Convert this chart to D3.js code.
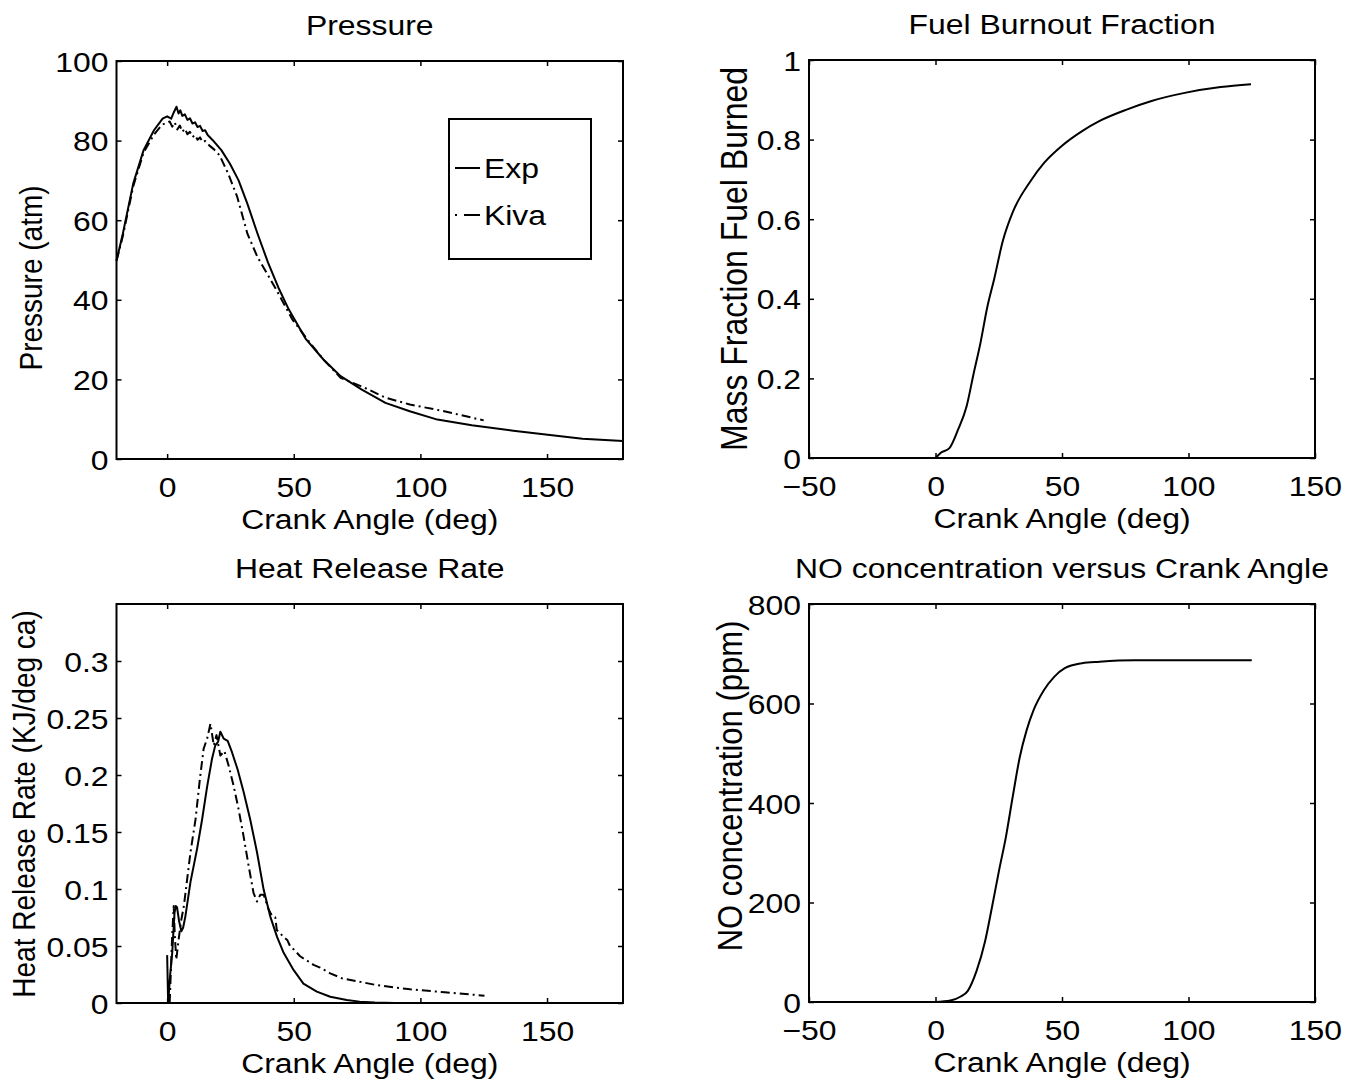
<!DOCTYPE html>
<html>
<head>
<meta charset="utf-8">
<script src="https://cdn.jsdelivr.net/npm/d3@7"></script>
<style>
  html, body { margin: 0; padding: 0; background: #fff; }
  svg { display: block; }
</style>
</head>
<body>
<svg id="chart" width="1359" height="1087"></svg>
<script>
// ---------------- DATA ----------------
// Pressure panel
const pExpAngle = [-20,-17.5,-13.4,-9.3,-5.2,-1.8,0,1.6,2.7,3.7,4.5,5.2,6,7,8,9,10,11,12,13,14,15,16,18,21.4,24.8,28.2,31.7,35.7,39.8,43.9,48,54.8,61.7,68.5,76.7,86.2,95.8,106.7,120.3,136.7,150.3,164,180];
const pExp = [49.8,56.6,69.2,77.6,82.6,85.5,86.1,85.5,87.2,88.5,86.8,87.6,86.2,86.6,85.2,85.6,84.3,84.6,83.4,83.7,82.4,82.6,81.4,80.1,77.6,74.2,70.0,64.1,56.6,49.4,43.1,37.6,30.1,25.0,20.8,17.5,14.1,12.0,9.9,8.5,7.1,6.1,5.1,4.5];
const pKivaAngle = [-20,-17.5,-13.4,-9.3,-5.2,-2,0,1,2,3,4,5,6,7,8,9,10,11,12,13,14,15,16.6,18.5,20.7,24.1,27.6,31.7,35.7,42.6,49.4,54.8,61.7,68.5,78,86.2,95.8,109.4,125];
const pKiva = [49.8,56.0,68.5,77.0,81.5,84.0,84.5,84.8,83.5,84.6,82.8,83.8,82.2,83.0,81.6,82.2,80.9,81.4,80.2,80.8,79.6,79.9,78.8,77.8,76.3,71.7,66.0,56.6,50.7,43.1,35.1,30.5,25.0,20.4,17.9,15.4,13.7,12.0,9.7];
const pXTicks = [0,50,100,150];
const pYTicks = [0,20,40,60,80,100];

// Fuel burnout panel
const fuelAngle = [0,2,5.5,8.9,12.3,15,17.8,20.5,23.2,26.6,30.7,37.6,43,49.9,58.1,64.9,75.8,85.4,99,112.7,124.7];
const fuelFrac = [0,0.0125,0.025,0.071,0.13,0.21,0.29,0.38,0.45,0.545,0.62,0.696,0.742,0.784,0.822,0.847,0.876,0.897,0.918,0.932,0.939];
const fXTicks = [-50,0,50,100,150];
const fYTicks = [0,0.2,0.4,0.6,0.8,1];

// Heat release rate panel
const hrrExpAngle = [0,0.4,1.2,2.0,2.9,3.4,3.9,4.7,5.6,6.3,7.2,9.2,11.8,13.8,15.8,17.7,19.0,20.1,21.0,22.3,23.9,25.6,27.8,30.2,32.8,35.5,38.1,40.7,43.4,46.0,49.9,53.8,59.1,64.4,70.9,76,82,90,125];
const hrrExp = [0.042,0.0,0.025,0.044,0.079,0.085,0.084,0.072,0.063,0.066,0.076,0.106,0.135,0.161,0.190,0.214,0.226,0.229,0.238,0.232,0.230,0.220,0.205,0.185,0.161,0.132,0.0995,0.076,0.058,0.044,0.029,0.017,0.010,0.0055,0.0026,0.0012,0.0004,0,0];
const hrrKivaAngle = [1.0,2.0,2.6,3.0,3.6,4.5,5.5,6.6,9.2,11.2,12.9,14.4,15.8,17.1,18.4,19.5,21,22.6,24.3,26.3,28.2,30.2,32.2,34.1,35.5,36.8,38.1,40.1,41.5,42.7,43.3,46,47.5,48.6,50,52.5,57.8,60.4,64.4,69,82.5,96,109.6,125.3];
const hrrKiva = [0.0,0.06,0.085,0.06,0.038,0.055,0.072,0.085,0.132,0.161,0.196,0.223,0.232,0.245,0.226,0.235,0.217,0.221,0.208,0.19,0.17,0.146,0.12,0.0966,0.089,0.095,0.095,0.082,0.076,0.075,0.064,0.058,0.055,0.0496,0.047,0.041,0.0335,0.031,0.026,0.0217,0.0158,0.012,0.0094,0.0064];
const hXTicks = [0,50,100,150];
const hYTicks = [0,0.05,0.1,0.15,0.2,0.25,0.3];

// NO concentration panel
const noAngle = [0,5.9,10,12.7,16.2,19.6,22.3,25.1,27.8,30.5,33.3,36,38.8,42.9,47,51.1,57.9,64.8,78.5,100,125];
const noConc = [0,3,11,22,62,122,190,264,331,412,492,546,587,627,654,671,681,684,687,687,687];
const nXTicks = [-50,0,50,100,150];
const nYTicks = [0,200,400,600,800];

const seriesNames = ["Exp", "Kiva"];

// ---------------- DRAWING ----------------
const svg = d3.select("#chart");
const FONT = "'Liberation Sans', Arial, Helvetica, sans-serif";
const FS = 28;
const SX = 1.14;
const KIVA_DASH = "9,4,2,4";
const fmt = d3.format("~g");

svg.append("rect").attr("width", 1359).attr("height", 1087).attr("fill", "#fff");

function label(x, y, str, opts = {}) {
  return svg.append("text")
    .attr("transform", `translate(${x},${y}) scale(${SX},1)` + (opts.rotate ? " rotate(-90)" : ""))
    .attr("text-anchor", opts.anchor || "middle")
    .attr("font-family", FONT)
    .attr("font-size", opts.size || FS)
    .attr("fill", "#000")
    .text(str);
}

function styleAxis(g) {
  g.attr("font-size", FS).attr("font-family", FONT);
  g.select(".domain").remove();
  g.selectAll(".tick line").attr("stroke", "#000").attr("stroke-width", 1.5);
  g.selectAll(".tick text").attr("fill", "#000").attr("transform", `scale(${SX},1)`);
}

function panel(cfg) {
  const x = d3.scaleLinear().domain(cfg.xd).range([cfg.l, cfg.r]);
  const y = d3.scaleLinear().domain(cfg.yd).range([cfg.b, cfg.t]);

  const gb = svg.append("g").attr("transform", `translate(0,${cfg.b})`)
    .call(d3.axisBottom(x).tickValues(cfg.xt).tickSizeInner(-5).tickSizeOuter(0).tickPadding(18).tickFormat(fmt));
  styleAxis(gb);
  const gt = svg.append("g").attr("transform", `translate(0,${cfg.t})`)
    .call(d3.axisTop(x).tickValues(cfg.xt).tickSizeInner(-5).tickSizeOuter(0).tickFormat(""));
  styleAxis(gt);
  const gl = svg.append("g").attr("transform", `translate(${cfg.l},0)`)
    .call(d3.axisLeft(y).tickValues(cfg.yt).tickSizeInner(-5).tickSizeOuter(0).tickPadding(7).tickFormat(fmt));
  styleAxis(gl);
  gl.selectAll(".tick text").attr("dy", "0.36em");
  const gr = svg.append("g").attr("transform", `translate(${cfg.r},0)`)
    .call(d3.axisRight(y).tickValues(cfg.yt).tickSizeInner(-5).tickSizeOuter(0).tickFormat(""));
  styleAxis(gr);

  svg.append("rect")
    .attr("x", cfg.l).attr("y", cfg.t)
    .attr("width", cfg.r - cfg.l).attr("height", cfg.b - cfg.t)
    .attr("fill", "none").attr("stroke", "#000").attr("stroke-width", 2);

  cfg.series.forEach(s => {
    const pts = s.xs.map((v, i) => [v, s.ys[i]]);
    const line = d3.line().x(d => x(d[0])).y(d => y(d[1])).curve(s.curve || d3.curveLinear);
    svg.append("path").datum(pts)
      .attr("d", line)
      .attr("fill", "none")
      .attr("stroke", "#000")
      .attr("stroke-width", 2)
      .attr("stroke-linejoin", "round")
      .attr("stroke-dasharray", s.dash || null);
  });

  const cx = (cfg.l + cfg.r) / 2;
  label(cx, cfg.t - 26, cfg.title);
  label(cx, cfg.b + 70, cfg.xlabel);
  label(cfg.ylabelX, cfg.ylabelY, cfg.ylabel, { rotate: true, size: cfg.ylabelSize });
  return { x, y };
}

panel({
  l: 116.5, r: 623, t: 61, b: 459,
  xd: [-20, 180], yd: [0, 100], xt: pXTicks, yt: pYTicks,
  title: "Pressure", xlabel: "Crank Angle (deg)", ylabel: "Pressure (atm)",
  ylabelX: 42, ylabelY: 278, ylabelSize: 28,
  series: [
    { xs: pExpAngle, ys: pExp },
    { xs: pKivaAngle, ys: pKiva, dash: KIVA_DASH }
  ]
});

panel({
  l: 809, r: 1315, t: 60, b: 458,
  xd: [-50, 150], yd: [0, 1], xt: fXTicks, yt: fYTicks,
  title: "Fuel Burnout Fraction", xlabel: "Crank Angle (deg)", ylabel: "Mass Fraction Fuel Burned",
  ylabelX: 747, ylabelY: 259, ylabelSize: 32,
  series: [ { xs: fuelAngle, ys: fuelFrac, curve: d3.curveMonotoneX } ]
});

panel({
  l: 116.5, r: 623, t: 604, b: 1003,
  xd: [-20, 180], yd: [0, 0.35], xt: hXTicks, yt: hYTicks,
  title: "Heat Release Rate", xlabel: "Crank Angle (deg)", ylabel: "Heat Release Rate (KJ/deg ca)",
  ylabelX: 35, ylabelY: 804, ylabelSize: 28,
  series: [
    { xs: hrrExpAngle, ys: hrrExp },
    { xs: hrrKivaAngle, ys: hrrKiva, dash: KIVA_DASH }
  ]
});

panel({
  l: 809, r: 1315, t: 604, b: 1002,
  xd: [-50, 150], yd: [0, 800], xt: nXTicks, yt: nYTicks,
  title: "NO concentration versus Crank Angle", xlabel: "Crank Angle (deg)", ylabel: "NO concentration (ppm)",
  ylabelX: 742, ylabelY: 786, ylabelSize: 31,
  series: [ { xs: noAngle, ys: noConc, curve: d3.curveMonotoneX } ]
});

// Legend (pressure panel)
const lg = { x: 449, y: 119, w: 142, h: 140 };
svg.append("rect").attr("x", lg.x).attr("y", lg.y).attr("width", lg.w).attr("height", lg.h)
  .attr("fill", "#fff").attr("stroke", "#000").attr("stroke-width", 2);
const legendRows = [
  { name: seriesNames[0], dash: null, cy: 168 },
  { name: seriesNames[1], dash: "2,7,16,4", cy: 215 }
];
legendRows.forEach(r => {
  svg.append("line").attr("x1", 455).attr("x2", 480).attr("y1", r.cy).attr("y2", r.cy)
    .attr("stroke", "#000").attr("stroke-width", 2).attr("stroke-dasharray", r.dash);
  label(484, r.cy + 10, r.name, { anchor: "start" });
});
</script>
</body>
</html>
